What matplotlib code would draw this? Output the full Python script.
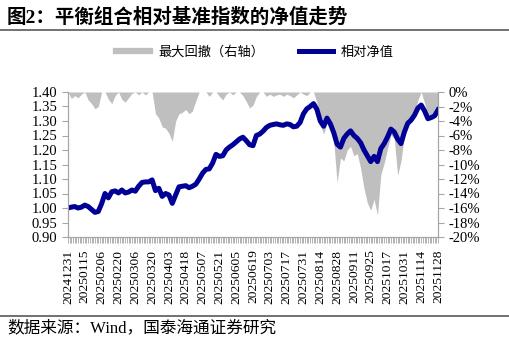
import numpy as np
import matplotlib
matplotlib.use('Agg')
import matplotlib.pyplot as plt
from matplotlib.lines import Line2D

# Tick labels: one every ten trading days
dates = ['20241231', '20250115', '20250206', '20250220', '20250306', '20250320',
         '20250403', '20250418', '20250507', '20250521', '20250605', '20250619',
         '20250703', '20250717', '20250731', '20250814', '20250828', '20250911',
         '20250925', '20251017', '20251031', '20251114', '20251128']
days_per_label = 10
days_per_point = 2  # series below hold one reading every two trading days

# Relative net value (left axis)
nav = [1.000, 1.003, 1.005, 1.000, 1.003, 1.010, 1.005, 0.995, 0.985, 0.988,
       1.015, 1.050, 1.035, 1.056, 1.059, 1.052, 1.062, 1.052, 1.055, 1.062,
       1.058, 1.075, 1.088, 1.090, 1.090, 1.097, 1.060, 1.068, 1.040, 1.050,
       1.045, 1.016, 1.045, 1.073, 1.075, 1.077, 1.070, 1.075, 1.082, 1.100,
       1.120, 1.133, 1.135, 1.155, 1.185, 1.178, 1.180, 1.200, 1.210, 1.218,
       1.228, 1.238, 1.244, 1.232, 1.218, 1.215, 1.250, 1.255, 1.265, 1.278,
       1.285, 1.288, 1.290, 1.287, 1.285, 1.290, 1.288, 1.280, 1.282, 1.295,
       1.325, 1.342, 1.350, 1.360, 1.340, 1.300, 1.282, 1.310, 1.290, 1.260,
       1.220, 1.210, 1.240, 1.255, 1.266, 1.250, 1.240, 1.225, 1.200, 1.180,
       1.160, 1.178, 1.160, 1.205, 1.222, 1.245, 1.272, 1.262, 1.238, 1.222,
       1.262, 1.292, 1.303, 1.320, 1.344, 1.355, 1.335, 1.308, 1.312, 1.318,
       1.338]

# Max drawdown in % (right axis)
drawdown = [0.0, -0.9, -0.5, -0.8, -0.3, 0.0, -1.1, -1.6, -2.3, -2.0,
            0.0, 0.0, -1.0, -1.6, -0.5, 0.0, -1.0, -1.4, -0.8, -0.2,
            0.0, -0.4, 0.0, -0.4, 0.0, 0.0, -3.0, -3.6, -4.8, -5.0,
            -5.7, -6.8, -4.0, -3.0, -2.8, -2.4, -3.0, -2.6, -1.2, 0.0,
            0.0, 0.0, -0.6, 0.0, 0.0, -0.6, -1.1, -0.3, 0.0, -0.4,
            0.0, 0.0, -0.5, -1.3, -2.2, -1.8, -0.6, 0.0, 0.0, -0.6,
            -0.3, -0.6, -0.4, -0.3, -0.6, -0.3, -0.5, -0.8, -0.4, 0.0,
            -0.3, -0.5, 0.0, 0.0, -1.5, -4.5, -5.8, -4.3, -4.8, -6.8,
            -12.5, -9.1, -9.5, -8.0, -7.5, -8.8, -8.5, -10.5, -13.3, -15.3,
            -16.3, -14.8, -17.0, -11.4, -9.8, -7.8, -5.9, -6.5, -11.5, -9.5,
            -6.0, -4.5, -3.8, -3.2, -1.1, 0.0, -1.5, -3.2, -3.0, -2.8,
            -2.3]

left_ticks = [0.90, 0.95, 1.00, 1.05, 1.10, 1.15, 1.20, 1.25, 1.30, 1.35, 1.40]
right_ticks = [-20, -18, -16, -14, -12, -10, -8, -6, -4, -2, 0]

title = '图2：平衡组合相对基准指数的净值走势'
source = '数据来源：Wind，国泰海通证券研究'

SERIF = ['Liberation Serif', 'Noto Sans CJK SC']
CJK = ['Noto Sans CJK SC', 'DejaVu Sans']
GRAY = '#bfbfbf'
AXIS = '#a6a6a6'
BLUE = '#000096'

plt.rcParams['font.family'] = SERIF

W, H = 510, 342
fig = plt.figure(figsize=(W / 100, H / 100), dpi=100)
fig.subplots_adjust(left=68 / W, right=438 / W, top=1 - 92 / H, bottom=1 - 237 / H)
ax = fig.add_subplot(111)
ax2 = ax.twinx()

x = np.arange(len(nav)) * days_per_point
n_days = (len(dates) - 1) * days_per_label + 1

# drawdown area on the right axis, kept behind the net value line
ax2.fill_between(x, drawdown, 0, color=GRAY, lw=0)
ax2.set_ylim(-20, 0)
ax2.set_yticks(right_ticks)
ax2.set_yticklabels(['%d%%' % v for v in right_ticks])

ax.plot(x, nav, color=BLUE, lw=3.6, solid_joinstyle='round')
ax.set_ylim(0.90, 1.40)
ax.set_yticks(left_ticks)
ax.set_yticklabels(['%.2f' % v for v in left_ticks])
ax.set_xlim(0, n_days - 1)
ax.set_xticks(np.arange(len(dates)) * days_per_label)
ax.set_xticklabels(dates, rotation=90, fontsize=9.7)
ax.set_xticks(np.arange(n_days), minor=True)

ax.set_zorder(ax2.get_zorder() + 1)
ax.patch.set_visible(False)

for a in (ax, ax2):
    a.spines['top'].set_visible(False)
    for s in ('left', 'right', 'bottom'):
        a.spines[s].set_color(AXIS)
    a.tick_params(axis='y', labelsize=10.5, color=AXIS, length=4, width=0.8)
ax.tick_params(axis='x', which='both', color=AXIS, length=4, width=0.6, pad=5)

# legend
handles = [Line2D([], [], color=GRAY, lw=4.5),
           Line2D([], [], color=BLUE, lw=3.6)]
fig.legend(handles, ['最大回撤（右轴）', '相对净值'], loc='center',
           bbox_to_anchor=(0.5, 1 - 52 / H), ncol=2, frameon=False,
           prop={'family': CJK, 'size': 9.5}, handlelength=2.6,
           handletextpad=0.6, columnspacing=2.6)

# header and footer
fig.text(7 / W, 1 - 17 / H, title, ha='left', va='center', fontsize=14,
         fontweight='bold', family=SERIF)
fig.add_artist(Line2D([0, 1], [1 - 30 / H] * 2, color='#595959', lw=1.2,
                      transform=fig.transFigure))
fig.add_artist(Line2D([0, 1], [1 - 316 / H] * 2, color='#595959', lw=1.2,
                      transform=fig.transFigure))
fig.text(7 / W, 1 - 328 / H, source, ha='left', va='center', fontsize=12,
         family=SERIF)

fig.savefig('out.png', dpi=100)
